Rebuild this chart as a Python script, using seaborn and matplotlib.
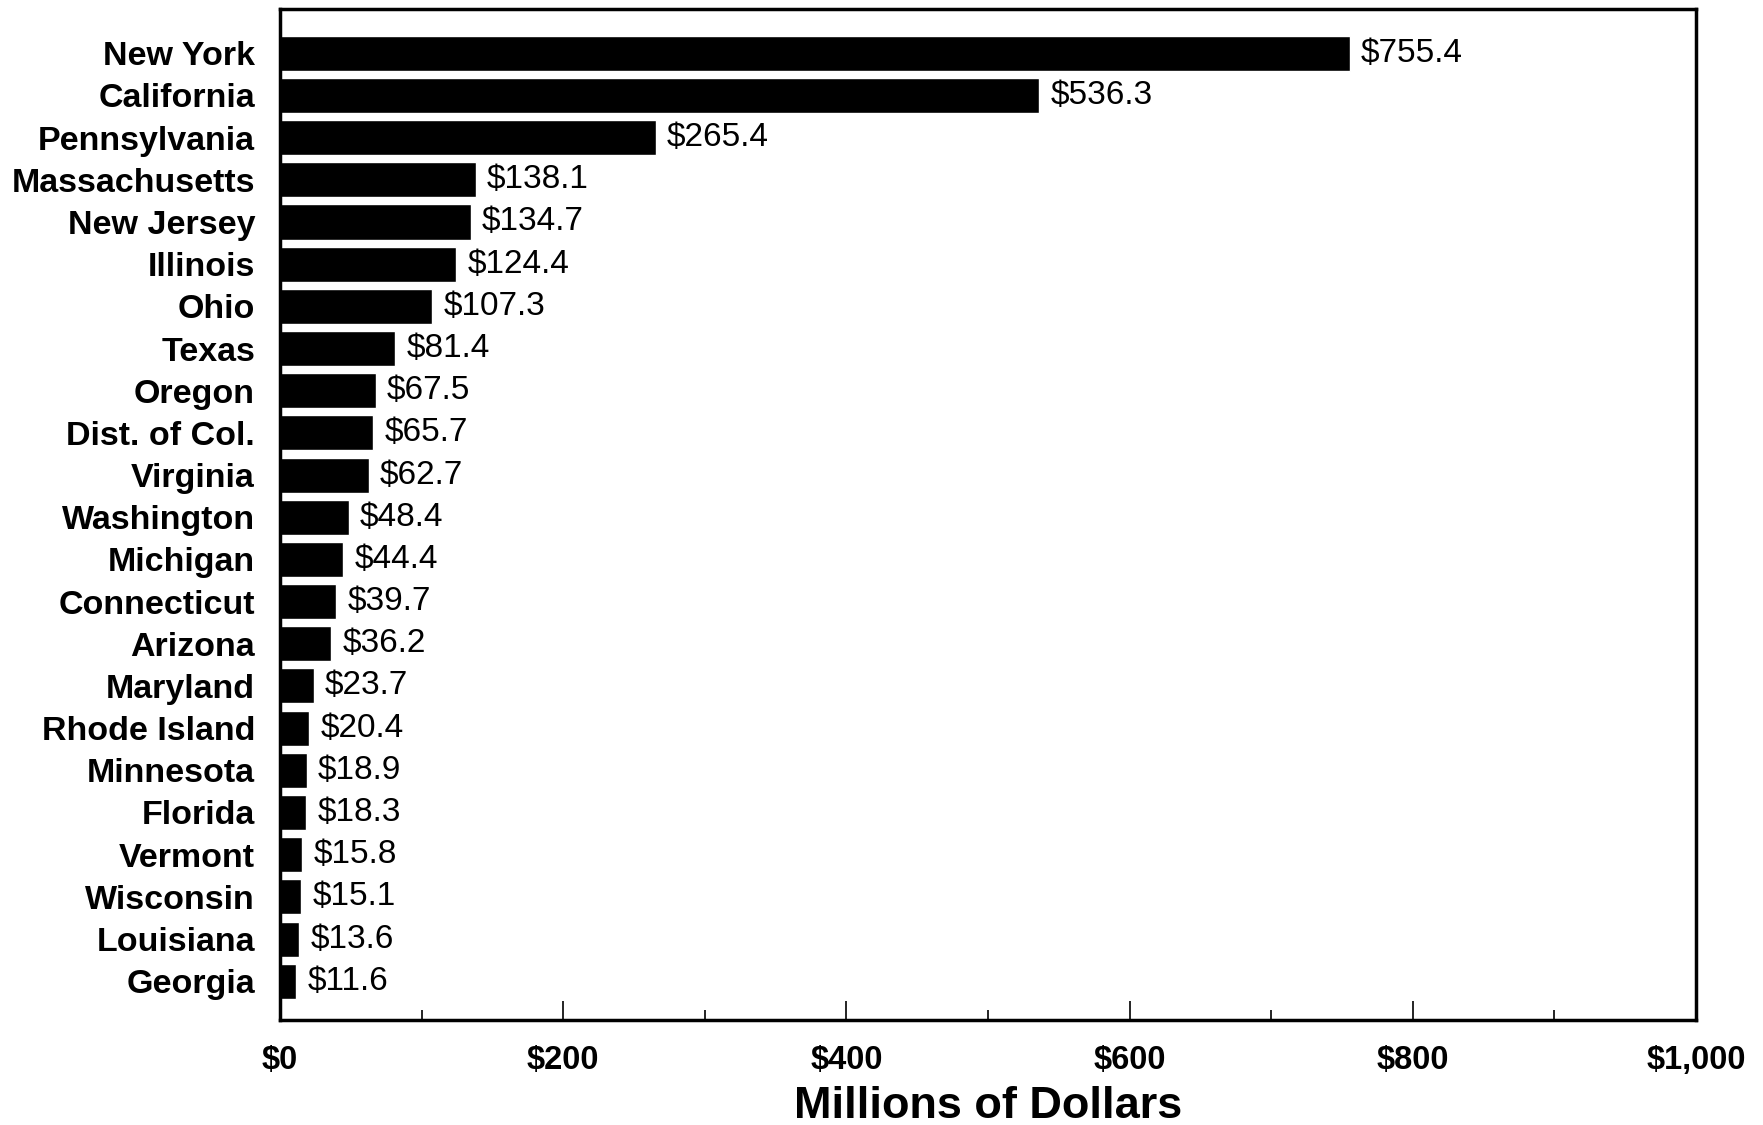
import matplotlib
matplotlib.use("Agg")
import matplotlib.pyplot as plt
import seaborn as sns
import pandas as pd
from matplotlib.ticker import MultipleLocator, FuncFormatter

states = ["New York", "California", "Pennsylvania", "Massachusetts", "New Jersey",
          "Illinois", "Ohio", "Texas", "Oregon", "Dist. of Col.", "Virginia",
          "Washington", "Michigan", "Connecticut", "Arizona", "Maryland",
          "Rhode Island", "Minnesota", "Florida", "Vermont", "Wisconsin",
          "Louisiana", "Georgia"]
values = [755.4, 536.3, 265.4, 138.1, 134.7, 124.4, 107.3, 81.4, 67.5, 65.7, 62.7,
          48.4, 44.4, 39.7, 36.2, 23.7, 20.4, 18.9, 18.3, 15.8, 15.1, 13.6, 11.6]
x_label = "Millions of Dollars"

df = pd.DataFrame({"state": states, "value": values})

sns.set_theme(style="white")
plt.rcParams["font.family"] = ["Liberation Sans", "DejaVu Sans"]

W, H = 1763, 1125
fig = plt.figure(figsize=(W / 100, H / 100), dpi=100)
ax = fig.add_axes([280 / W, (H - 1020) / H, (1696 - 280) / W, (1020 - 9) / H])

sns.barplot(data=df, x="value", y="state", orient="h", color="black",
            width=0.83, ax=ax, saturation=1)

ax.set_xlim(0, 1000)
ax.set_ylim(22.92, -1.05)

for i, v in enumerate(values):
    ax.text(v + 8, i, f"${v:.1f}", va="center", ha="left", fontsize=24,
            color="black")

ax.xaxis.set_major_locator(MultipleLocator(200))
ax.xaxis.set_minor_locator(MultipleLocator(100))
ax.xaxis.set_major_formatter(FuncFormatter(lambda x, p: f"${x:,.0f}"))
ax.tick_params(axis="x", which="major", direction="in", length=14, width=1.2,
               pad=18, labelsize=23.5, bottom=True, colors="black")
ax.tick_params(axis="x", which="minor", direction="in", length=7, width=1.2,
               bottom=True, colors="black")
ax.tick_params(axis="y", length=0, pad=18, labelsize=24.5, colors="black")
for lab in ax.get_xticklabels():
    lab.set_fontweight("bold")
for lab in ax.get_yticklabels():
    lab.set_fontweight("bold")

ax.set_ylabel("")
ax.set_xlabel(x_label, fontsize=32.5, fontweight="bold", labelpad=7, color="black")

for s in ax.spines.values():
    s.set_visible(True)
    s.set_color("black")
    s.set_linewidth(2.5)

fig.savefig("out.png", dpi=100, facecolor="white")
